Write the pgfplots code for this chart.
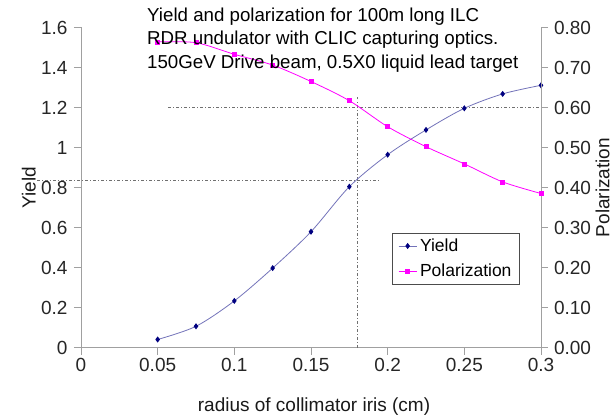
\documentclass[border=0pt]{standalone}
\usepackage{fontspec}
\setmainfont{Liberation Sans}
\usepackage{pgfplots}
\pgfplotsset{compat=1.18}
\definecolor{yieldline}{HTML}{7373B9}
\definecolor{yieldmark}{HTML}{000080}
\definecolor{polmag}{HTML}{FF00FF}
\definecolor{axgray}{HTML}{A0A0A0}
\definecolor{refgray}{HTML}{707070}
\pgfplotsset{
  excelaxis/.style={
    scale only axis, width=460pt, height=320pt,
    xmin=0, xmax=0.3,
    axis line style={axgray, line width=0.8pt},
    tick align=outside, major tick length=7pt,
    tick style={axgray, line width=0.8pt},
    tick label style={font=\fontsize{19}{22}\selectfont, text=black!85},
    /pgf/number format/assume math mode=true,
    scaled ticks=false,
    legend image code/.code={%
      \draw[mark repeat=2,mark phase=2,#1] plot coordinates {(0pt,0pt)(9pt,0pt)(18pt,0pt)};},
  }
}
\begin{document}
\begin{tikzpicture}
\begin{axis}[excelaxis,
  axis x line*=bottom, axis y line*=left,
  ymin=0, ymax=1.6,
  ytick={0,0.2,0.4,0.6,0.8,1,1.2,1.4,1.6},
  xtick={0,0.05,0.1,0.15,0.2,0.25,0.3},
  xticklabel style={/pgf/number format/fixed, /pgf/number format/precision=2},
  yticklabel style={/pgf/number format/fixed, /pgf/number format/precision=1, xshift=-3pt},
  xlabel={radius of collimator iris (cm)},
  ylabel={Yield},
  every axis x label/.style={at={(axis description cs:0.5,0)}, anchor=north,
    yshift=-47pt, xshift=3pt, font=\fontsize{19}{22}\selectfont, text=black!90},
  every axis y label/.style={at={(axis description cs:0,0.5)}, xshift=-41.7pt,
    rotate=90, anchor=south, font=\fontsize{19}{22}\selectfont, text=black!90},
  clip=false,
  legend style={at={(rel axis cs:0.676,0.359)}, anchor=north west,
    draw=black!70, line width=0.6pt, font=\fontsize{17.5}{20}\selectfont,
    inner xsep=6pt, inner ysep=4pt, row sep=7pt, nodes={inner sep=2pt},
    /tikz/every odd column/.append style={column sep=1pt},
    cells={anchor=west}},
]
\draw[refgray, line width=0.6pt, dash pattern=on 3pt off 2pt on 1pt off 2pt]
  (axis cs:-0.0286,0.834) -- (axis cs:0.194,0.834);
\draw[refgray, line width=0.6pt, dash pattern=on 3pt off 2pt on 1pt off 2pt]
  (axis cs:0.18,0) -- (axis cs:0.18,1.25);
\draw[refgray, line width=0.6pt, dash pattern=on 3pt off 2pt on 1pt off 2pt]
  (axis cs:0.057,1.2) -- (axis cs:0.3,1.2);
\addplot[yieldline, line width=0.8pt, smooth, mark=diamond*, mark size=2.4pt,
  mark options={draw=yieldmark, fill=yieldmark}] coordinates {
  (0.05,0.040)(0.075,0.106)(0.1,0.233)(0.125,0.397)(0.15,0.579)(0.175,0.804)
  (0.2,0.964)(0.225,1.088)(0.25,1.196)(0.275,1.268)(0.3,1.311)};
\addlegendentry{Yield}
\addlegendimage{polmag, line width=0.8pt, mark=square*, mark size=2pt}
\addlegendentry{Polarization}
\end{axis}
\begin{axis}[excelaxis,
  axis y line*=right, axis x line=none,
  ymin=0, ymax=0.8,
  ytick={0,0.1,0.2,0.3,0.4,0.5,0.6,0.7,0.8},
  yticklabel style={/pgf/number format/fixed, /pgf/number format/zerofill,
    /pgf/number format/precision=2, xshift=2.5pt},
  ylabel={Polarization},
  every axis y label/.style={at={(axis description cs:1,0.5)}, xshift=51pt,
    rotate=90, anchor=north, font=\fontsize{19}{22}\selectfont, text=black!90},
]
\addplot[polmag, line width=0.8pt, smooth, mark=square*, mark size=2pt] coordinates {
  (0.05,0.764)(0.075,0.762)(0.1,0.733)(0.125,0.706)(0.15,0.665)(0.175,0.617)
  (0.2,0.552)(0.225,0.502)(0.25,0.459)(0.275,0.414)(0.3,0.385)};
\end{axis}
\begin{scope}[font=\fontsize{18.7}{22}\selectfont]
\node[anchor=base west, inner sep=0pt] at (66pt,325.8pt) {Yield and polarization for 100m long ILC};
\node[anchor=base west, inner sep=0pt] at (66pt,302.5pt) {RDR undulator with CLIC capturing optics.};
\node[anchor=base west, inner sep=0pt] at (66pt,279.2pt) {150GeV Drive beam, 0.5X0 liquid lead target};
\end{scope}
\pgfresetboundingbox
\useasboundingbox (-81pt,-70.5pt) rectangle (535pt,347.5pt);
\end{tikzpicture}
\end{document}
